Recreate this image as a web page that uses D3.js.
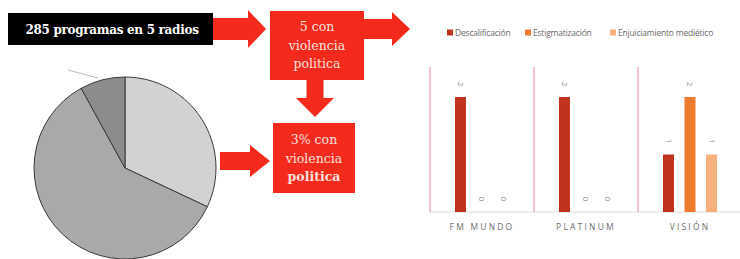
<!DOCTYPE html>
<html>
<head>
<meta charset="utf-8">
<script src="https://cdn.jsdelivr.net/npm/d3@7"></script>
<style>
  body { margin: 0; background: #fff; }
  svg { display: block; }
  .serif { font-family: 'DejaVu Serif', 'Liberation Serif', serif; }
</style>
</head>
<body>
<div id="chart"></div>
<script>
// pie shares (clockwise from 12 o'clock)
var pieValues = [32, 60, 8];
var pieColors = ['#d2d2d2', '#a9a9a9', '#8c8c8c'];

// bar chart
var radios = ['FM MUNDO', 'PLATINUM', 'VISIÓN'];
var series = ['Descalificación', 'Estigmatización', 'Enjuiciamiento mediético'];
var descalificacion = [2, 2, 1];
var estigmatizacion = [0, 0, 2];
var enjuiciamiento = [0, 0, 1];
var seriesColors = ['#c0341d', '#ef7b2f', '#f6b07e'];

var width = 740, height = 259;

var svg = d3.select('#chart').append('svg')
    .attr('width', width)
    .attr('height', height);

// ---- flow diagram ----
var red = '#f42a1c';

function arrow(x0, x1, cy, shaftH, headH, headL) {
    // horizontal arrow pointing right
    var xh = x1 - headL;
    return 'M' + x0 + ',' + (cy - shaftH / 2) + 'L' + xh + ',' + (cy - shaftH / 2) +
        'L' + xh + ',' + (cy - headH / 2) + 'L' + x1 + ',' + cy +
        'L' + xh + ',' + (cy + headH / 2) + 'L' + xh + ',' + (cy + shaftH / 2) +
        'L' + x0 + ',' + (cy + shaftH / 2) + 'Z';
}
function arrowDown(cx, y0, y1, shaftW, headW, headL) {
    var yh = y1 - headL;
    return 'M' + (cx - shaftW / 2) + ',' + y0 + 'L' + (cx - shaftW / 2) + ',' + yh +
        'L' + (cx - headW / 2) + ',' + yh + 'L' + cx + ',' + y1 +
        'L' + (cx + headW / 2) + ',' + yh + 'L' + (cx + shaftW / 2) + ',' + yh +
        'L' + (cx + shaftW / 2) + ',' + y0 + 'Z';
}

var flow = svg.append('g');

flow.append('rect')
    .attr('x', 8).attr('y', 13).attr('width', 205).attr('height', 32)
    .attr('fill', '#000');
flow.append('text')
    .attr('class', 'serif')
    .attr('x', 112).attr('y', 34)
    .attr('text-anchor', 'middle')
    .attr('fill', '#fff')
    .style('font-size', '12px')
    .style('font-weight', 'bold')
    .style('letter-spacing', '-0.3px')
    .text('285 programas en 5 radios');

flow.append('path').attr('d', arrow(213, 266, 29, 22, 38, 18)).attr('fill', red);
flow.append('path').attr('d', arrow(364, 410, 29, 20, 34, 18)).attr('fill', red);
flow.append('path').attr('d', arrowDown(315, 80, 117, 17, 38, 19)).attr('fill', red);
flow.append('path').attr('d', arrow(220, 270, 161, 18, 32, 20)).attr('fill', red);

flow.append('rect')
    .attr('x', 270).attr('y', 11).attr('width', 94).attr('height', 69)
    .attr('fill', red);
flow.append('rect')
    .attr('x', 273).attr('y', 123).attr('width', 82).attr('height', 70)
    .attr('fill', red);

var box2 = ['5 con', 'violencia', 'politica'];
flow.selectAll('text.b2')
    .data(box2)
    .enter().append('text')
    .attr('class', 'b2 serif')
    .attr('x', 317)
    .attr('y', function(d, i){ return 31 + i * 18.5; })
    .attr('text-anchor', 'middle')
    .attr('fill', '#fde0dc')
    .style('font-size', '12.5px')
    .text(function(d){ return d; });

var box3 = ['3% con', 'violencia', 'politica'];
flow.selectAll('text.b3')
    .data(box3)
    .enter().append('text')
    .attr('class', 'b3 serif')
    .attr('x', 314)
    .attr('y', function(d, i){ return 144 + i * 18.5; })
    .attr('text-anchor', 'middle')
    .attr('fill', '#fde0dc')
    .style('font-size', '12.5px')
    .style('font-weight', function(d, i){ return i == 2 ? 'bold' : 'normal'; })
    .text(function(d){ return d; });

// ---- pie ----
var pie = d3.pie().sort(null).startAngle(0).endAngle(2 * Math.PI);
var arc = d3.arc().innerRadius(0).outerRadius(91);

var pieG = svg.append('g').attr('transform', 'translate(125,168)');
pieG.selectAll('path')
    .data(pie(pieValues))
    .enter().append('path')
    .attr('d', arc)
    .attr('fill', function(d, i){ return pieColors[i]; })
    .attr('stroke', '#3a3a3a')
    .attr('stroke-width', 1);

// leader line
svg.append('line')
    .attr('x1', 68).attr('y1', 70).attr('x2', 98).attr('y2', 78)
    .attr('stroke', '#bbb').attr('stroke-width', 1);

// ---- bar chart ----
var x0 = d3.scaleBand().domain(radios).range([430, 742]);
var x1 = d3.scalePoint().domain(series).range([-21.5, 21.5]);
var y = d3.scaleLinear().domain([0, 2]).range([212, 97]);
var barW = 11;
var values = [descalificacion, estigmatizacion, enjuiciamiento];

var chart = svg.append('g');

chart.append('line')
    .attr('x1', 430).attr('x2', 740)
    .attr('y1', y(0)).attr('y2', y(0))
    .attr('stroke', '#d9d9d9');

chart.selectAll('line.sep')
    .data(radios)
    .enter().append('line')
    .attr('class', 'sep')
    .attr('x1', function(d){ return x0(d); })
    .attr('x2', function(d){ return x0(d); })
    .attr('y1', 67).attr('y2', y(0))
    .attr('stroke', '#ee8aa2')
    .attr('stroke-width', 1);

var groups = chart.selectAll('g.grp')
    .data(radios)
    .enter().append('g')
    .attr('class', 'grp')
    .attr('transform', function(d){
        return 'translate(' + (x0(d) + x0.bandwidth() / 2) + ',0)';
    });

groups.each(function(r, ri){
    var g = d3.select(this);
    series.forEach(function(s, si){
        var v = values[si][ri];
        var cx = x1(s);
        if (v > 0) {
            g.append('rect')
                .attr('x', cx - barW / 2)
                .attr('y', y(v))
                .attr('width', barW)
                .attr('height', y(0) - y(v))
                .attr('fill', seriesColors[si]);
        }
        g.append('text')
            .attr('transform', 'translate(' + cx + ',' + (y(v) - 13) + ') rotate(90)')
            .attr('text-anchor', 'middle')
            .attr('dy', '0.35em')
            .attr('fill', '#8a8a8a')
            .style('font-family', '"Open Sans", sans-serif')
            .style('font-size', '8px')
            .text(v);
    });
});

groups.append('text')
    .attr('y', 230)
    .attr('text-anchor', 'middle')
    .attr('fill', '#6e6e6e')
    .style('font-family', '"Open Sans", sans-serif')
    .style('font-size', '8.5px')
    .style('letter-spacing', '2.2px')
    .text(function(d){ return d; });

// legend
var legendX = [447, 525, 610];
var legend = chart.selectAll('g.leg')
    .data(series)
    .enter().append('g')
    .attr('class', 'leg')
    .attr('transform', function(d, i){ return 'translate(' + legendX[i] + ',33)'; });
legend.append('rect')
    .attr('x', 0).attr('y', -3.5).attr('width', 6).attr('height', 6)
    .attr('fill', function(d, i){ return seriesColors[i]; });
legend.append('text')
    .attr('x', 8).attr('dy', '0.33em')
    .attr('fill', '#6a6a6a')
    .style('font-family', '"Open Sans", sans-serif')
    .style('font-size', '8.5px')
    .style('letter-spacing', '-0.2px')
    .text(function(d){ return d; });
</script>
</body>
</html>
